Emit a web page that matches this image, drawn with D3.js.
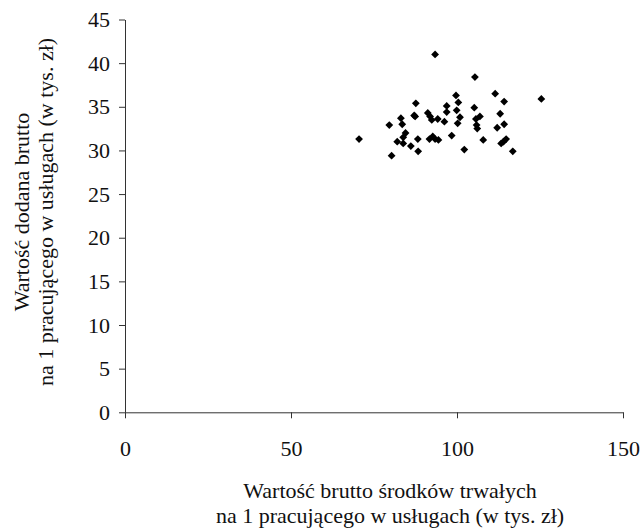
<!DOCTYPE html>
<html>
<head>
<meta charset="utf-8">
<script src="https://cdn.jsdelivr.net/npm/d3@7/dist/d3.min.js"></script>
<style>
  html, body { margin: 0; padding: 0; background: #fff; }
  svg { display: block; }
</style>
</head>
<body>
<svg id="chart" width="643" height="528"></svg>
<script>
// Gross fixed assets vs. gross value added per person employed in services (thousand PLN)
const assets = [70.5, 80.3, 79.6, 83.1, 83.5, 84.5, 83.8, 82.0, 83.8, 86.1,
                88.3, 88.2, 87.6, 87.1, 87.4, 91.2, 91.9, 92.4, 94.2, 96.2,
                96.9, 96.9, 99.7, 100.4, 99.9, 100.9, 100.2, 93.4, 92.7, 91.7,
                93.4, 94.4, 98.4, 102.2, 105.4, 105.2, 105.7, 106.9, 105.9, 106.1,
                107.9, 111.5, 114.2, 113.0, 114.2, 112.1, 114.8, 113.3, 114.0, 116.8,
                125.4];
const valueAdded = [31.3, 29.4, 32.9, 33.7, 33.0, 32.0, 31.5, 31.0, 30.8, 30.5,
                    29.9, 31.3, 35.4, 34.0, 33.9, 34.3, 33.9, 33.5, 33.6, 33.3,
                    35.1, 34.4, 36.3, 35.5, 34.6, 33.8, 33.1, 41.0, 31.6, 31.3,
                    31.3, 31.2, 31.7, 30.1, 38.4, 34.9, 33.6, 33.9, 32.9, 32.5,
                    31.2, 36.5, 35.6, 34.2, 33.0, 32.6, 31.3, 30.8, 31.0, 29.9,
                    35.9];
const xTicks = [0, 50, 100, 150];
const yTicks = [0, 5, 10, 15, 20, 25, 30, 35, 40, 45];
const xTitle = ["Wartość brutto środków trwałych", "na 1 pracującego w usługach (w tys. zł)"];
const yTitle = ["Wartość dodana brutto", "na 1 pracującego w usługach (w tys. zł)"];

const points = assets.map((a, i) => ({ x: a, y: valueAdded[i] }));

const serif = "'Liberation Serif', 'Times New Roman', serif";
const svg = d3.select("#chart");
const plotLeft = 125, plotRight = 623, plotTop = 19.5, plotBottom = 412.3;

const x = d3.scaleLinear().domain([0, 150]).range([plotLeft, plotRight]);
const y = d3.scaleLinear().domain([0, 45]).range([plotBottom, plotTop]);

const xAxis = svg.append("g")
  .attr("transform", `translate(0,${plotBottom})`)
  .call(d3.axisBottom(x).tickValues(xTicks).tickSizeInner(6).tickSizeOuter(0).tickPadding(22));
const yAxis = svg.append("g")
  .attr("transform", `translate(${plotLeft},0)`)
  .call(d3.axisLeft(y).tickValues(yTicks).tickSizeInner(6).tickSizeOuter(0).tickPadding(9));

[xAxis, yAxis].forEach(g => {
  g.attr("font-family", null).attr("font-size", null);
  g.select(".domain").attr("stroke", "#333").attr("stroke-width", 1);
  g.selectAll(".tick line").attr("stroke", "#333").attr("stroke-width", 1);
  g.selectAll(".tick text")
    .style("font-family", serif)
    .style("font-size", "22px")
    .attr("fill", "#111");
});

// diamond markers
const r = 3.9;
svg.append("g")
  .selectAll("path")
  .data(points)
  .join("path")
  .attr("d", d => {
    const cx = x(d.x), cy = y(d.y);
    return `M${cx},${cy - r}L${cx + r},${cy}L${cx},${cy + r}L${cx - r},${cy}Z`;
  })
  .attr("fill", "#000");

// axis titles
const xt = svg.append("text")
  .attr("text-anchor", "middle")
  .style("font-family", serif)
  .style("font-size", "22px")
  .attr("fill", "#111");
xTitle.forEach((t, i) => {
  xt.append("tspan").attr("x", 390).attr("y", 498 + i * 25).text(t);
});

const yt = svg.append("text")
  .attr("text-anchor", "middle")
  .style("font-family", serif)
  .style("font-size", "22px")
  .attr("fill", "#111")
  .attr("transform", "translate(0,212) rotate(-90)");
yTitle.forEach((t, i) => {
  yt.append("tspan").attr("x", 0).attr("y", 29 + i * 24).text(t);
});
</script>
</body>
</html>
